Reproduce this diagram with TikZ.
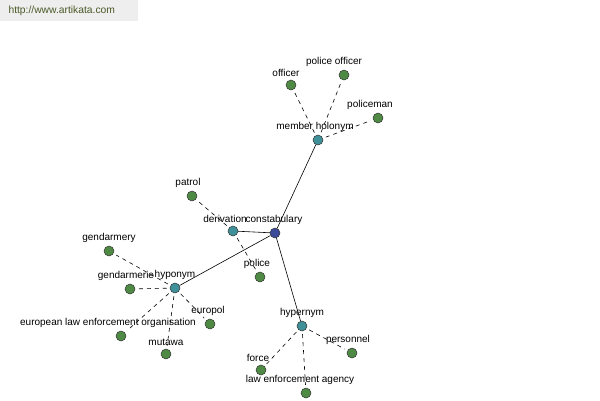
\documentclass[tikz,border=0pt]{standalone}
\usepackage{fontspec}
\setmainfont{Liberation Sans}
\definecolor{leafgreen}{HTML}{4F8A45}
\definecolor{relteal}{HTML}{3F9098}
\definecolor{rootblue}{HTML}{3C4A9A}
\definecolor{labelgray}{HTML}{5A5A5A}
\definecolor{urlgreen}{HTML}{4A5A28}
\definecolor{urlback}{HTML}{EEEEEE}
\tikzset{
  dot/.style={draw=black!80,circle,inner sep=0pt,minimum size=10pt,line width=0.5pt,
    label distance=-2pt,
    every label/.style={font=\fontsize{7.5}{9}\selectfont,text=labelgray,inner sep=1pt}},
  leaf/.style={dot,fill=leafgreen},
  rel/.style={dot,fill=relteal},
  root/.style={dot,fill=rootblue},
  link/.style={black,line width=0.6pt},
  weak/.style={black,line width=0.6pt,dash pattern=on 4pt off 4pt,shorten <=3pt,shorten >=3pt}
}
\begin{document}
\begin{tikzpicture}[x=1pt,y=-1pt]
		\useasboundingbox (0,0) rectangle (600,400);
		\fill[urlback] (0,0) rectangle (138,21);
		\node[text=urlgreen,font=\fontsize{10.3}{12}\selectfont,anchor=west] (url) at (5,11) {http://www.artikata.com};
	
		\node[root, label = {[xshift=-1pt]above:constabulary}] (constabulary) at (275,233) {};
	
		\node[rel, label = {[xshift=-3pt]above:member holonym}] (holonym) at (318,140) {};
		\node[rel, label = {[xshift=-8pt]above:derivation}] (derivation) at (233,231) {};
		\node[rel, label = {above:hyponym}] (hyponym) at (175,288) {};
		\node[rel, label = {above:hypernym}] (hypernym) at (302,326) {};
		
		\node[leaf, label = {[xshift=-5pt]above:officer}] (officer) at (291,85) {};
		\node[leaf, label = {[xshift=-10pt]above:police officer}] (policeofficer) at (344,75) {};
		\node[leaf, label = {[xshift=-8pt]above:policeman}] (policeman) at (378,118) {};
		
		\node[leaf, label = {[xshift=-4pt]above:patrol}] (patrol) at (192,196) {};
		\node[leaf, label = {[xshift=-3pt]above:police}] (police) at (260,277) {};
		
		\node[leaf, label = {above:gendarmery}] (gendarmery) at (109,251) {};
		\node[leaf, label = {[xshift=-4pt]above:gendarmerie}] (gendarmerie) at (130,289) {};
		\node[leaf, label = {[xshift=-13pt]above:european law enforcement organisation}] (elo) at (121,336) {};
		\node[leaf, label = {above:mutawa}] (mutawa) at (166,354) {};
		\node[leaf, label = {[xshift=-2pt]above:europol}] (europol) at (210,324) {};
		
		\node[leaf, label = {[xshift=-4pt]above:personnel}] (personnel) at (352,353) {};
		\node[leaf, label = {[xshift=-3pt]above:force}] (force) at (261,370) {};
		\node[leaf, label = {[xshift=-6pt]above:law enforcement agency}] (lea) at (306,393) {};
		
		\draw[link] (constabulary) -- (holonym);
		\draw[link] (constabulary) -- (derivation);
		\draw[link] (constabulary) -- (hyponym);
		\draw[link] (constabulary) -- (hypernym);
		
		\draw[weak] (holonym) -- (officer);
		\draw[weak] (holonym) -- (policeofficer);
		\draw[weak] (holonym) -- (policeman);
		\draw[weak] (derivation) -- (patrol);
		\draw[weak] (derivation) -- (police);
		\draw[weak] (hyponym) -- (gendarmery);
		\draw[weak] (hyponym) -- (gendarmerie);
		\draw[weak] (hyponym) -- (elo);
		\draw[weak] (hyponym) -- (mutawa);
		\draw[weak] (hyponym) -- (europol);
		\draw[weak] (hypernym) -- (personnel);
		\draw[weak] (hypernym) -- (force);
		\draw[weak] (hypernym) -- (lea);
		\end{tikzpicture}
\end{document}
